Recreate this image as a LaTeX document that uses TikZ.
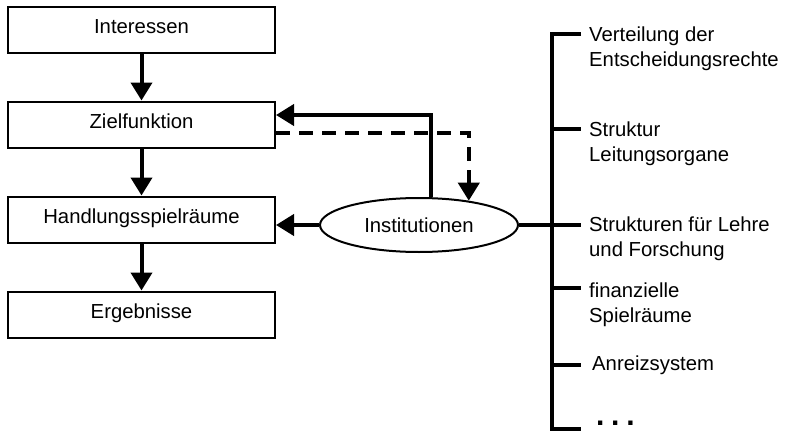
\documentclass[tikz,border=0pt]{standalone}
\usepackage{fontspec}
\setmainfont{Liberation Sans}
\usetikzlibrary{arrows.meta,shapes.geometric,calc}
\newcommand{\mainsize}{\fontsize{20.3}{25.5}\selectfont}
\begin{document}
\begin{tikzpicture}[x=1pt,y=-1pt,
  box/.style={draw, line width=2pt, minimum width=267pt, minimum height=46pt,
    inner sep=0pt, text height=14pt, text depth=7pt, font=\mainsize},
  inst/.style={draw, ellipse, line width=2pt, minimum width=198pt, minimum height=54pt,
    inner sep=0pt, font=\mainsize},
  arr/.style={line width=4pt, -{Triangle[length=18pt,width=21pt]}},
  dasharr/.style={arr, dash pattern=on 14pt off 9pt},
  bar/.style={line width=3.5pt},
  itemtext/.style={anchor=north west, align=left, inner sep=0pt, font=\mainsize}
]
\useasboundingbox (0,0) rectangle (785,431);

% left column
\node[box] (int) at (141.5,29.5) {Interessen};
\node[box] (zf)  at (141.5,124.5) {Zielfunktion};
\node[box] (hs)  at (141.5,219.5) {Handlungsspielräume};
\node[box] (erg) at (141.5,314.5) {Ergebnisse};

\draw[arr] (int.south) -- (zf.north);
\draw[arr] (zf.south) -- (hs.north);
\draw[arr] (hs.south) -- (erg.north);

% institutions
\node[inst] (ins) at (419,225) {Institutionen};
\coordinate (ztop) at (275,115);
\coordinate (zdash) at (275,133);
\draw[arr] (ins.66) |- (zf.east |- ztop);
\draw[dasharr] (zf.east |- zdash) -| (ins.26);
\draw[arr] (ins.west) -- (hs.east |- ins.west);

% bracket
\coordinate (b1) at (552,34);
\coordinate (b2) at (552,129);
\coordinate (b3) at (552,225);
\coordinate (b4) at (552,288);
\coordinate (b5) at (552,365);
\coordinate (b6) at (552,429);
\draw[bar, line join=miter] ($(b1)+(29,0)$) -- (b1) -- (b6) -- ($(b6)+(29,0)$);
\draw[bar] (b2) -- ++(29,0);
\draw[bar] (ins.east) -- ($(b3)+(29,0)$);
\draw[bar] (b4) -- ++(29,0);
\draw[bar] (b5) -- ++(29,0);

\node[itemtext] (t1) at (589,23.15) {\strut Verteilung der\\Entscheidungsrechte};
\node[itemtext] (t2) at (589,118.15) {\strut Struktur\\Leitungsorgane};
\node[itemtext] (t3) at (589,213.15) {\strut Strukturen für Lehre\\und Forschung};
\node[itemtext] (t4) at (589,279.15) {\strut finanzielle\\Spielräume};
\node[itemtext] (t5) at (592,352.15) {\strut Anreizsystem};
\node[anchor=base west, inner sep=0pt, font=\fontsize{30}{34}\selectfont\bfseries] (t6) at (596,425) {.\hspace{6.7pt}.\hspace{6.7pt}.};
\end{tikzpicture}
\end{document}
